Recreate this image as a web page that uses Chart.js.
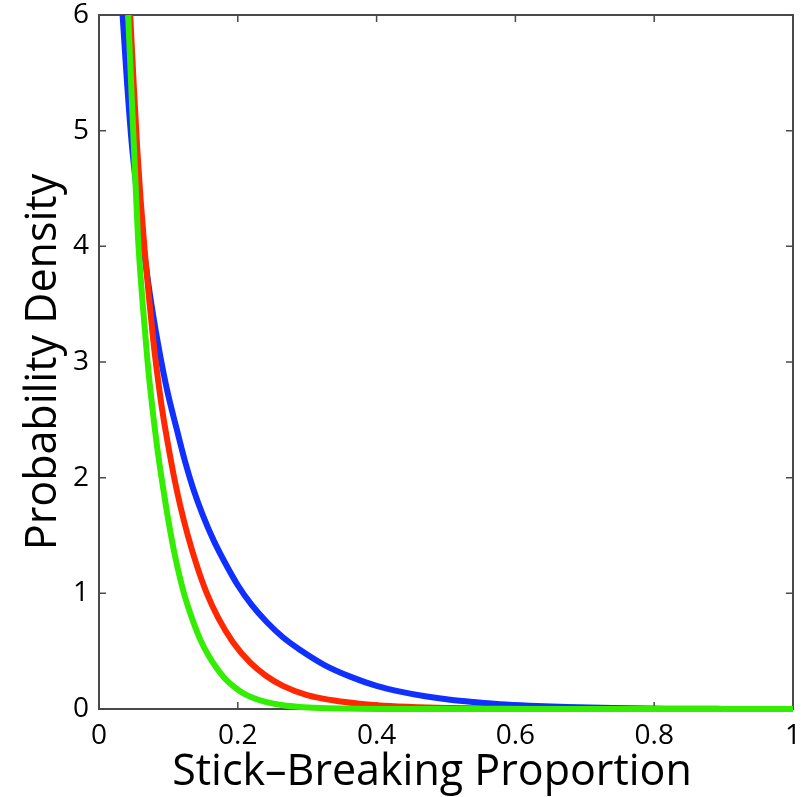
<!DOCTYPE html>
<html>
<head>
<meta charset="utf-8">
<script src="https://cdn.jsdelivr.net/npm/chart.js@4.4.0/dist/chart.umd.min.js"></script>
<style>
  html, body { margin: 0; padding: 0; background: #ffffff; }
  #wrap { width: 803px; height: 797px; position: relative; }
</style>
</head>
<body>
<div id="wrap"><canvas id="myChart"></canvas></div>
<script>
// values
const blueX = [0.034, 0.040, 0.047, 0.055, 0.062, 0.073, 0.085, 0.098, 0.112, 0.124, 0.136, 0.150, 0.165, 0.182, 0.200, 0.220, 0.242, 0.265, 0.290, 0.325, 0.362, 0.400, 0.434, 0.470, 0.506, 0.540, 0.578, 0.620, 0.674, 0.740, 0.820, 0.900, 1.000];
const blueY = [6.00, 5.45, 4.90, 4.45, 4.10, 3.60, 3.16, 2.76, 2.42, 2.14, 1.90, 1.67, 1.46, 1.26, 1.07, 0.90, 0.75, 0.62, 0.51, 0.38, 0.28, 0.20, 0.15, 0.11, 0.08, 0.06, 0.042, 0.029, 0.017, 0.008, 0.003, 0.001, 0.0];

const redX = [0.045, 0.050, 0.055, 0.060, 0.066, 0.072, 0.078, 0.085, 0.092, 0.100, 0.108, 0.117, 0.128, 0.141, 0.156, 0.172, 0.193, 0.218, 0.240, 0.265, 0.300, 0.337, 0.375, 0.410, 0.460, 0.500, 0.600, 0.700, 1.000];
const redY = [6.00, 5.40, 4.85, 4.40, 3.95, 3.56, 3.20, 2.85, 2.55, 2.27, 2.01, 1.76, 1.50, 1.24, 0.99, 0.785, 0.577, 0.40, 0.29, 0.20, 0.12, 0.075, 0.045, 0.028, 0.015, 0.009, 0.003, 0.001, 0.0];

const greenX = [0.042, 0.050, 0.056, 0.063, 0.070, 0.077, 0.085, 0.094, 0.102, 0.110, 0.122, 0.134, 0.146, 0.158, 0.170, 0.182, 0.193, 0.205, 0.218, 0.240, 0.265, 0.290, 0.310, 0.350, 0.400, 1.000];
const greenY = [6.00, 4.90, 4.10, 3.50, 3.00, 2.60, 2.21, 1.85, 1.56, 1.31, 1.01, 0.785, 0.60, 0.46, 0.35, 0.26, 0.20, 0.147, 0.105, 0.061, 0.032, 0.017, 0.011, 0.004, 0.001, 0.0];

const xTicks = [0, 0.2, 0.4, 0.6, 0.8, 1];
const yTicks = [0, 1, 2, 3, 4, 5, 6];
const xTitle = 'Stick\u2013Breaking Proportion';
const yTitle = 'Probability Density';

const toPts = (xs, ys) => xs.map((x, i) => ({x: x, y: ys[i]}));

const FONT = '"Open Sans", "Liberation Sans", sans-serif';

// box round the axes with inward tick marks on all four sides, plus x title
const framePlugin = {
    id: 'frame',
    beforeDatasetsDraw(chart) {
        const {ctx, chartArea: a, scales} = chart;
        ctx.save();
        ctx.strokeStyle = '#4a4a4a';
        ctx.lineWidth = 2;
        ctx.strokeRect(a.left, a.top, a.right - a.left, a.bottom - a.top);
        ctx.lineWidth = 1.5;
        ctx.beginPath();
        xTicks.forEach(v => {
            const px = scales.x.getPixelForValue(v);
            ctx.moveTo(px, a.bottom); ctx.lineTo(px, a.bottom - 7);
            ctx.moveTo(px, a.top); ctx.lineTo(px, a.top + 7);
        });
        yTicks.forEach(v => {
            const py = scales.y.getPixelForValue(v);
            ctx.moveTo(a.left, py); ctx.lineTo(a.left + 7, py);
            ctx.moveTo(a.right, py); ctx.lineTo(a.right - 7, py);
        });
        ctx.stroke();

        // x axis title, sits a little left of the plot centre as in the figure
        ctx.fillStyle = '#000';
        ctx.font = '43px ' + FONT;
        ctx.textAlign = 'center';
        ctx.textBaseline = 'alphabetic';
        ctx.fillText(xTitle, (a.left + a.right) / 2 - 14, chart.height - 12);
        ctx.restore();
    }
};

const line = (pts, color, order) => ({
    data: pts,
    borderColor: color,
    borderWidth: 6,
    pointRadius: 0,
    fill: false,
    cubicInterpolationMode: 'monotone',
    clip: {left: 0, top: 0, right: 0, bottom: 4},
    order: order
});

new Chart(document.getElementById('myChart'), {
    type: 'line',
    data: {
        datasets: [
            line(toPts(blueX, blueY), '#1030ff', 3),
            line(toPts(redX, redY), '#ff2800', 2),
            line(toPts(greenX, greenY), '#33ee00', 1)
        ]
    },
    options: {
        responsive: true,
        maintainAspectRatio: false,
        animation: false,
        layout: {padding: {top: 15, right: 10, left: 0, bottom: 0}},
        plugins: {legend: {display: false}, tooltip: {enabled: false}},
        scales: {
            x: {
                type: 'linear',
                min: 0, max: 1,
                afterBuildTicks: s => { s.ticks = xTicks.map(v => ({value: v})); },
                afterFit: s => { s.height = 88; s.paddingLeft = 0; s.paddingRight = 0; },
                grid: {display: false, drawTicks: false},
                border: {display: false},
                ticks: {
                    padding: 10,
                    color: '#000',
                    font: {family: FONT, size: 28},
                    callback: v => String(v)
                },
                title: {display: false}
            },
            y: {
                min: 0, max: 6,
                afterBuildTicks: s => { s.ticks = yTicks.map(v => ({value: v})); },
                afterFit: s => { s.width = 99; s.paddingTop = 0; s.paddingBottom = 0; },
                grid: {display: false, drawTicks: false},
                border: {display: false},
                ticks: {
                    padding: 10,
                    color: '#000',
                    font: {family: FONT, size: 28},
                    callback: v => String(v)
                },
                title: {
                    display: true,
                    text: yTitle,
                    color: '#000',
                    padding: 18,
                    font: {family: FONT, size: 43}
                }
            }
        }
    },
    plugins: [framePlugin]
});
</script>
</body>
</html>
